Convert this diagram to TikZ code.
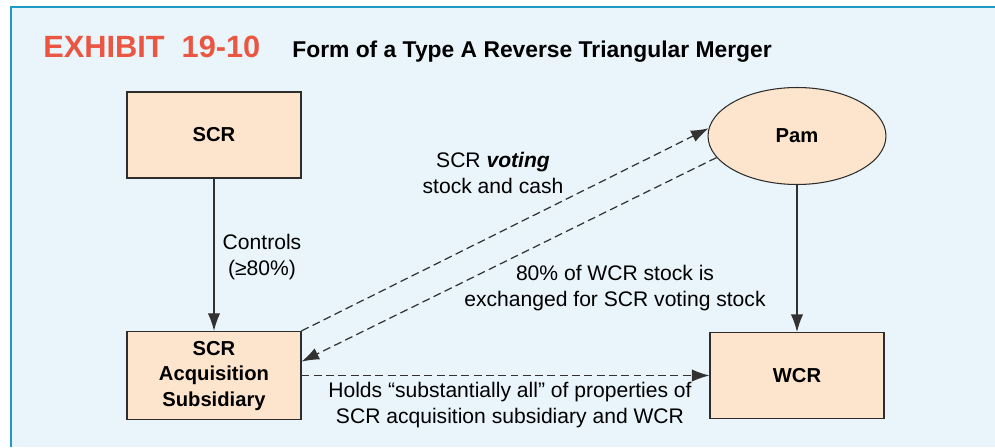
\documentclass[tikz,border=0pt]{standalone}
\usepackage{fontspec}
\setmainfont{Liberation Sans}
\usepackage{tikz}
\usetikzlibrary{arrows.meta, shapes.geometric}
\definecolor{pagebg}{RGB}{233,245,251}
\definecolor{frameblue}{RGB}{30,155,196}
\definecolor{exhibitred}{RGB}{234,86,66}
\definecolor{boxfill}{RGB}{253,229,205}
\definecolor{boxline}{RGB}{45,45,45}
\definecolor{linegray}{RGB}{50,50,50}
\tikzset{entity/.style = {shape = rectangle, draw = boxline, fill = boxfill, line width = 0.6pt, minimum width = 3.48cm, minimum height = 1.72cm, align = center, font = \fontsize{11.5}{14.5}\selectfont\bfseries}}
\tikzset{holder/.style = {shape = ellipse, draw = boxline, fill = boxfill, line width = 0.6pt, minimum width = 3.56cm, minimum height = 1.94cm, font = \fontsize{11.5}{14.5}\selectfont\bfseries}}
\tikzset{edge/.style = {-{Latex[length = 10pt, width = 7pt]}, draw = linegray, line width = 0.7pt}}
\tikzset{dashedge/.style = {edge, dash pattern = on 4.5pt off 2.5pt}}
\tikzset{caption/.style = {align = center, font = \fontsize{12}{15.3}\selectfont}}

\begin{document}
\begin{tikzpicture}[x = 0.02cm, y = -0.02cm]
			\useasboundingbox (0, 0) rectangle (995, 447);
			\fill[pagebg] (11, 7) rectangle (995, 447);
			\draw[frameblue, line width = 1.2pt] (11, 447) -- (11, 7) -- (995, 7);

			\node[anchor = base west, inner sep = 0pt, text = exhibitred, font = \fontsize{17.5}{19}\selectfont\bfseries] (exhibit) at (43, 57) {EXHIBIT\ \ 19-10};
			\node[anchor = base west, inner sep = 0pt, font = \fontsize{13}{15}\selectfont\bfseries] (title) at (292, 57) {Form of a Type A Reverse Triangular Merger};

			\node[entity] (scr) at (214, 135) {SCR};
			\node[entity] (sub) at (214, 375.5) {\raisebox{-2pt}{\begin{tabular}{@{}c@{}}SCR\\Acquisition\\Subsidiary\end{tabular}}};
			\node[holder] (pam) at (797, 136) {Pam};
			\node[entity] (wcr) at (797, 375.5) {WCR};

			\draw[edge] (scr) to (sub);
			\draw[edge] (pam) to (wcr);
			\draw[dashedge] (sub.north east) to (pam.175);
			\draw[dashedge] (pam.195) to (sub.9);
			\draw[dashedge] (sub.east) to (wcr.west);

			\node[caption] (controls) at (262, 257) {Controls\\(≥80\%)};
			\node[caption] (voting) at (493, 173) {SCR \textbf{\textit{voting}}\\stock and cash};
			\node[caption] (exchange) at (615, 288) {80\% of WCR stock is\\exchanged for SCR voting stock};
			\node[caption] (holds) at (510, 405) {Holds “substantially all” of properties of\\SCR acquisition subsidiary and WCR};
		\end{tikzpicture}
\end{document}
